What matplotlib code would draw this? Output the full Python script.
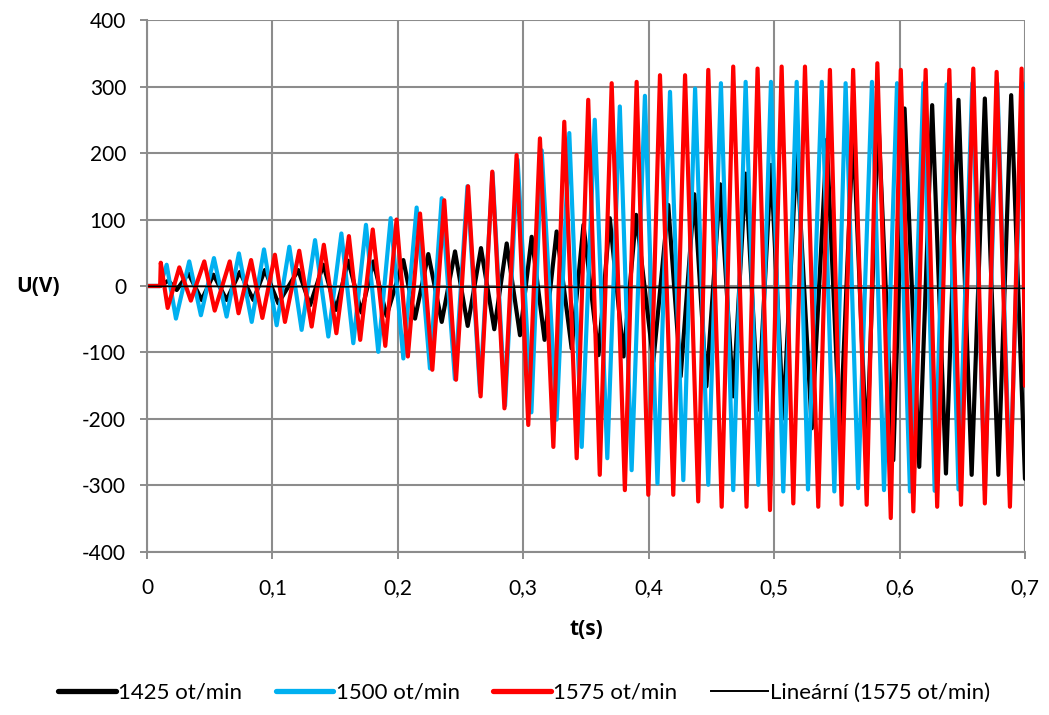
import matplotlib
matplotlib.use('Agg')
import matplotlib.pyplot as plt

plt.rcParams['font.family'] = ['Lato', 'DejaVu Sans']
plt.rcParams['axes.unicode_minus'] = False

# extrémy průběhů (čas v s, napětí ve V)
t_1425 = [0, 0.0105, 0.017, 0.0237, 0.033, 0.0436, 0.053, 0.0635, 0.074, 0.0848, 0.094,
          0.1047, 0.1206, 0.130, 0.1406, 0.1507, 0.1605, 0.171, 0.1805, 0.191, 0.2044,
          0.2137, 0.2243, 0.235, 0.2456, 0.2557, 0.2663, 0.2769, 0.2868, 0.2974, 0.3067,
          0.317, 0.3266, 0.3386, 0.348, 0.360, 0.369, 0.380, 0.390, 0.4037, 0.4156,
          0.4255, 0.4364, 0.446, 0.457, 0.4674, 0.4773, 0.4874, 0.4975, 0.5073, 0.518,
          0.530, 0.542, 0.5525, 0.563, 0.5738, 0.583, 0.595, 0.604, 0.6157, 0.626,
          0.637, 0.647, 0.6575, 0.668, 0.6787, 0.689, 0.700]
u_1425 = [0, 0, 8, -6, 19, -21, 17, -21, 21, -21, 24,
          -26, 24, -29, 32, -36, 38, -40, 37, -45, 39,
          -49, 48, -54, 52, -60, 57, -65, 64, -74, 74,
          -81, 82, -94, 92, -104, 102, -106, 107, -114, 122,
          -136, 138, -151, 153, -166, 169, -186, 182, -199, 204,
          -214, 220, -232, 237, -254, 255, -262, 267, -272, 272,
          -282, 280, -284, 282, -284, 287, -290]

t_1500 = [0, 0.0105, 0.0157, 0.0231, 0.0337, 0.043, 0.0534, 0.0635, 0.0733, 0.0835, 0.0933,
          0.1034, 0.1135, 0.1233, 0.134, 0.1446, 0.155, 0.1645, 0.1746, 0.1844, 0.1943,
          0.2044, 0.215, 0.2256, 0.235, 0.2455, 0.2555, 0.2655, 0.2755, 0.2855, 0.2955,
          0.3065, 0.3147, 0.3266, 0.3367, 0.3466, 0.357, 0.367, 0.377, 0.3864, 0.397,
          0.407, 0.417, 0.4276, 0.437, 0.4475, 0.4576, 0.4674, 0.4773, 0.4874, 0.4975,
          0.5073, 0.518, 0.527, 0.538, 0.548, 0.557, 0.567, 0.578, 0.5876, 0.598,
          0.6083, 0.619, 0.628, 0.6375, 0.647, 0.658, 0.668, 0.678, 0.688, 0.698, 0.700]
u_1500 = [0, 0, 32, -49, 37, -44, 42, -46, 49, -54, 55,
          -59, 59, -66, 69, -76, 79, -86, 92, -99, 102,
          -109, 118, -124, 132, -140, 150, -160, 170, -180, 190,
          -190, 204, -201, 230, -242, 250, -259, 270, -277, 286,
          -297, 292, -292, 297, -299, 305, -307, 307, -299, 307,
          -309, 307, -306, 307, -309, 305, -304, 307, -307, 305,
          -309, 305, -308, 303, -306, 305, -307, 305, -306, 305, 300]

t_1575 = [0, 0.0105, 0.011, 0.0165, 0.0258, 0.035, 0.0457, 0.054, 0.066, 0.073, 0.083,
          0.092, 0.102, 0.110, 0.1214, 0.1313, 0.141, 0.151, 0.161, 0.170, 0.180,
          0.190, 0.199, 0.208, 0.2177, 0.2275, 0.237, 0.2464, 0.256, 0.266, 0.2753,
          0.285, 0.2947, 0.304, 0.3133, 0.324, 0.3327, 0.3426, 0.3518, 0.361, 0.3705,
          0.381, 0.3904, 0.3997, 0.409, 0.4196, 0.429, 0.4395, 0.4475, 0.4582, 0.4674,
          0.478, 0.4868, 0.4967, 0.506, 0.5153, 0.5246, 0.5352, 0.5445, 0.5538, 0.563,
          0.5738, 0.5823, 0.593, 0.601, 0.611, 0.6208, 0.630, 0.6397, 0.649, 0.6588,
          0.668, 0.6774, 0.688, 0.6973, 0.700]
u_1575 = [0, 0, 35, -33, 28, -22, 37, -37, 37, -41, 39,
          -48, 47, -54, 53, -61, 62, -71, 75, -81, 85,
          -90, 100, -106, 109, -126, 129, -141, 150, -166, 172,
          -184, 197, -209, 222, -242, 247, -259, 280, -284, 305,
          -307, 307, -314, 317, -314, 317, -324, 325, -332, 330,
          -332, 327, -337, 330, -327, 330, -332, 325, -329, 325,
          -329, 335, -349, 325, -339, 325, -332, 325, -329, 327,
          -327, 322, -332, 327, -150]

# lineární trend (1575 ot/min)
t_trend = [0, 0.7]
u_trend = [-0.5, -3.5]

x_ticks = [0, 0.1, 0.2, 0.3, 0.4, 0.5, 0.6, 0.7]
x_labels = ['0', '0,1', '0,2', '0,3', '0,4', '0,5', '0,6', '0,7']
y_ticks = [-400, -300, -200, -100, 0, 100, 200, 300, 400]

fig = plt.figure(figsize=(10.49, 7.15), dpi=100)
ax = fig.add_axes([0.1401, 0.228, 0.837, 0.744])

style = dict(lw=3.0, solid_joinstyle='round', solid_capstyle='round')
ax.plot(t_1425, u_1425, color='#000000', label='1425 ot/min', **style)
ax.plot(t_1500, u_1500, color='#00B0F0', label='1500 ot/min', **style)
ax.plot(t_1575, u_1575, color='#FF0000', label='1575 ot/min', **style)
ax.plot(t_trend, u_trend, color='#000000', lw=1.2, label='Lineární (1575 ot/min)')

ax.set_xlim(0, 0.7)
ax.set_ylim(-400, 400)
ax.set_xticks(x_ticks)
ax.set_xticklabels(x_labels)
ax.set_yticks(y_ticks)
ax.tick_params(labelsize=15, color='#8c8c8c', length=5, width=1.4)
ax.tick_params(axis='x', pad=14)
ax.tick_params(axis='y', pad=10)

ax.grid(True, color='#8c8c8c', lw=1.5)
ax.set_axisbelow(True)
for side in ['top', 'right']:
    ax.spines[side].set_visible(False)
for side in ['left', 'bottom']:
    ax.spines[side].set_color('#8c8c8c')
    ax.spines[side].set_linewidth(1.5)

bold = dict(fontsize=15, fontweight='bold', family=['Open Sans', 'DejaVu Sans'])
ax.set_xlabel('t(s)', labelpad=15, **bold)
ax.set_ylabel('U(V)', rotation=0, labelpad=32, va='center', **bold)

leg = fig.legend(loc='center', bbox_to_anchor=(0.5, 0.031), ncol=4, frameon=False,
                 fontsize=16, handlelength=2.6, handletextpad=0.1, columnspacing=1.5)
for line in leg.get_lines():
    line.set_linewidth(3.8)
leg.get_lines()[3].set_linewidth(1.4)

fig.savefig('out.png', dpi=100)
